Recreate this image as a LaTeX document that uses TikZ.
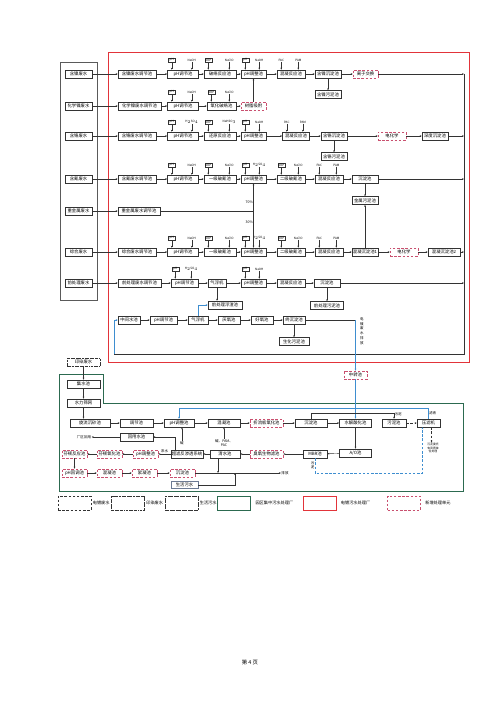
\documentclass[tikz,border=0pt]{standalone}
\usepackage{fontspec}
\setmainfont{Noto Sans CJK SC}
\usetikzlibrary{positioning,arrows.meta,calc}
\definecolor{inkgrey}{HTML}{333333}
\definecolor{srcgrey}{HTML}{5A5A5A}
\definecolor{platered}{HTML}{E2343A}
\definecolor{newred}{HTML}{C9506F}
\definecolor{parkgreen}{HTML}{2C6A50}
\definecolor{flowblue}{HTML}{3E8ED0}
\definecolor{domgrey}{HTML}{6C7A93}
\newlength\px
\setlength\px{0.042cm}
\tikzset{
  unit/.style    = {draw=inkgrey, line width=0.65pt, align=center, inner sep=0.8pt,
                    font=\fontsize{5.2}{6}\selectfont, minimum height=8\px},
  wd/.style      = {minimum width=#1\px},
  newunit/.style = {unit, draw=newred, densely dashed},
  meter/.style   = {draw=inkgrey, line width=0.5pt, inner sep=0.5pt, minimum width=7\px,
                    minimum height=4.6\px, font=\fontsize{3.6}{4}\selectfont},
  chem/.style    = {inner sep=0.3pt, font=\fontsize{3.6}{4}\selectfont},
  note/.style    = {inner sep=0.5pt, align=center, font=\fontsize{4.2}{5}\selectfont},
  pipe/.style    = {line width=0.5pt, draw=inkgrey},
  arr/.style     = {-{Stealth[length=2.4pt,width=2pt]}, line width=0.5pt, draw=inkgrey},
  barr/.style    = {arr, draw=flowblue},
  legbox/.style  = {minimum width=33\px, minimum height=14\px, inner sep=0, line width=0.6pt},
  legtext/.style = {inner sep=0.5pt, font=\fontsize{5}{6}\selectfont},
}
\newcommand\dose[4][meter]{%
  \node[#1] (#2m) at ($(#2.north west)+(4.5,-9.5)$) {#3};
  \node[chem] (#2c) at ($(#2.north east)+(-7,-9.5)$) {#4};
  \draw[arr] (#2m) -- (#2m |- #2.north);
  \draw[arr] (#2c) -- (#2c |- #2.north);}

\begin{document}
\begin{tikzpicture}[x=0.042cm, y=-0.042cm]
  \useasboundingbox (0,0) rectangle (500,707);

  \draw[srcgrey, line width=0.9pt] (60,62) rectangle (97,300);
  \draw[platered, line width=0.8pt] (108,52) rectangle (469,362);

  \node[unit, wd=27] (sni)  at (78.5,74)  {含镍废水};
  \node[unit, wd=27] (seni) at (78.5,106) {化学镍废水};
  \node[unit, wd=27] (scr)  at (78.5,136) {含铬废水};
  \node[unit, wd=27] (scn)  at (78.5,179) {含氰废水};
  \node[unit, wd=27] (shm)  at (78.5,211) {重金属废水};
  \node[unit, wd=27] (smix) at (78.5,252) {综合废水};
  \node[unit, wd=27] (spre) at (78.5,283) {前处理废水};

  % nickel
  \node[unit, wd=38] (ni1) at (137,74)   {含镍废水调节池};
  \node[unit, wd=31] (ni2) at (183,74)   {pH调节池};
  \node[unit, wd=32] (ni3) at (220,74)   {破络反应池};
  \node[unit, wd=25] (ni4) at (253.5,74) {pH调整池};
  \node[unit, wd=28] (ni5) at (291,74)   {混凝反应池};
  \node[unit, wd=26] (ni6) at (328,74)   {含镍沉淀池};
  \node[newunit, wd=25] (ni7) at (365.5,74) {离子交换};
  \node[unit, wd=26, below=12\px of ni6] (nis) {含镍污泥池};
  \dose{ni2}{pH}{NaOH}
  \dose{ni3}{ORP}{NaClO}
  \dose{ni4}{pH}{NaOH}
  \dose[chem]{ni5}{PAC}{PAM}

  \node[unit, wd=43] (eni1) at (139.5,106) {化学镍废水调节池};
  \node[unit, wd=31] (eni2) at (183,106)   {pH调节池};
  \node[unit, wd=29] (eni3) at (221.5,106) {氧化破络池};
  \node[newunit, wd=25] (eni4) at (253.5,106) {树脂吸附};
  \dose{eni2}{pH}{NaOH}
  \dose{eni3}{ORP}{NaClO}

  % chromium
  \node[unit, wd=38] (cr1) at (137,136)   {含铬废水调节池};
  \node[unit, wd=31] (cr2) at (183,136)   {pH调节池};
  \node[unit, wd=32] (cr3) at (220,136)   {还原反应池};
  \node[unit, wd=25] (cr4) at (253.5,136) {pH调整池};
  \node[unit, wd=27] (cr5) at (296,136)   {混凝反应池};
  \node[unit, wd=26] (cr6) at (334,136)   {含铬沉淀池};
  \node[newunit, wd=28] (cr7) at (392,136) {电化学};
  \node[unit, wd=26] (cr8) at (435,136)   {深度沉淀池};
  \node[unit, wd=26, below=12\px of cr6] (crs) {含铬污泥池};
  \dose{cr2}{pH}{H$_2$SO$_4$}
  \dose{cr3}{ORP}{NaHSO$_3$}
  \dose{cr4}{pH}{NaOH}
  \dose[chem]{cr5}{PAC}{PAM}

  % cyanide
  \node[unit, wd=38] (cn1) at (137,179)   {含氰废水调节池};
  \node[unit, wd=31] (cn2) at (183,179)   {pH调节池};
  \node[unit, wd=32] (cn3) at (220,179)   {一级破氰池};
  \node[unit, wd=25] (cn4) at (253.5,179) {pH调整池};
  \node[unit, wd=28] (cn5) at (291,179)   {二级破氰池};
  \node[unit, wd=28] (cn6) at (329,179)   {混凝反应池};
  \node[unit, wd=26] (cn7) at (365,179)   {沉淀池};
  \node[unit, wd=26, below=13\px of cn7] (mets) {金属污泥池};
  \dose{cn2}{pH}{NaOH}
  \dose{cn3}{ORP}{NaClO}
  \dose{cn4}{pH}{H$_2$SO$_4$}
  \dose{cn5}{ORP}{NaClO}
  \dose[chem]{cn6}{PAC}{PAM}

  \node[unit, wd=42] (hm1) at (139,211) {重金属废水调节池};

  % mixed
  \node[unit, wd=38] (mix1) at (137,252)   {综合废水调节池};
  \node[unit, wd=31] (mix2) at (183,252)   {pH调节池};
  \node[unit, wd=32] (mix3) at (220,252)   {一级破氰池};
  \node[unit, wd=25] (mix4) at (253.5,252) {pH调整池};
  \node[unit, wd=28] (mix5) at (291,252)   {二级破氰池};
  \node[unit, wd=28] (mix6) at (329,252)   {混凝反应池};
  \node[unit, wd=26] (mix7) at (365,252)   {混凝沉淀池1};
  \node[newunit, wd=28] (mix8) at (404,252) {电化学};
  \node[unit, wd=32] (mix9) at (444,252)   {混凝沉淀池2};
  \dose{mix2}{pH}{NaOH}
  \dose{mix3}{ORP}{NaClO}
  \dose{mix4}{pH}{H$_2$SO$_4$}
  \dose{mix5}{ORP}{NaClO}
  \dose[chem]{mix6}{PAC}{PAM}

  % pretreatment
  \node[unit, wd=43] (pre1) at (139.5,283) {前处理废水调节池};
  \node[unit, wd=27] (pre2) at (184.5,283) {pH调节池};
  \node[unit, wd=18] (pre3) at (217,283)   {气浮机};
  \node[unit, wd=25] (pre4) at (253.5,283) {pH调整池};
  \node[unit, wd=28] (pre5) at (291,283)   {混凝反应池};
  \node[unit, wd=26] (pre6) at (327,283)   {沉淀池};
  \node[unit, wd=34] (pref) at (225,305)   {前处理浮渣池};
  \node[unit, wd=33, below=14\px of pre6] (pres) {前处理污泥池};
  \dose{pre2}{pH}{H$_2$SO$_4$}
  \dose{pre4}{pH}{NaOH}

  \node[unit, wd=22] (mid1) at (129,320)   {中间水池};
  \node[unit, wd=27] (mid2) at (163.5,320) {pH调节池};
  \node[unit, wd=20] (mid3) at (198,320)   {气浮机};
  \node[unit, wd=22] (mid4) at (229,320)   {厌氧池};
  \node[unit, wd=22] (mid5) at (262,320)   {好氧池};
  \node[unit, wd=22] (mid6) at (294,320)   {终沉淀池};
  \node[unit, wd=30, below=13\px of mid6] (mids) {生化污泥池};

  \draw[arr] (sni) -- (ni1);   \draw[arr] (seni) -- (eni1); \draw[arr] (scr) -- (cr1);
  \draw[arr] (scn) -- (cn1);   \draw[arr] (shm) -- (hm1);   \draw[arr] (smix) -- (mix1);
  \draw[arr] (spre) -- (pre1);
  \draw[arr] (ni1) -- (ni2); \draw[arr] (ni2) -- (ni3); \draw[arr] (ni3) -- (ni4);
  \draw[arr] (ni4) -- (ni5); \draw[arr] (ni5) -- (ni6); \draw[arr] (ni6) -- (ni7);
  \draw[arr] (ni6) -- (nis);
  \draw[arr] (eni1) -- (eni2); \draw[arr] (eni2) -- (eni3); \draw[arr] (eni3) -- (eni4);
  \draw[arr] (eni4) -- (ni4);
  \draw[arr] (cr1) -- (cr2); \draw[arr] (cr2) -- (cr3); \draw[arr] (cr3) -- (cr4);
  \draw[arr] (cr4) -- (cr5); \draw[arr] (cr5) -- (cr6); \draw[arr] (cr6) -- (cr7);
  \draw[arr] (cr7) -- (cr8); \draw[arr] (cr6) -- (crs);
  \draw[arr] (cn1) -- (cn2); \draw[arr] (cn2) -- (cn3); \draw[arr] (cn3) -- (cn4);
  \draw[arr] (cn4) -- (cn5); \draw[arr] (cn5) -- (cn6); \draw[arr] (cn6) -- (cn7);
  \draw[arr] (cn7) -- (mets);
  \draw[arr] (mix1) -- (mix2); \draw[arr] (mix2) -- (mix3); \draw[arr] (mix3) -- (mix4);
  \draw[arr] (mix4) -- (mix5); \draw[arr] (mix5) -- (mix6); \draw[arr] (mix6) -- (mix7);
  \draw[arr] (mix7) -- (mix8); \draw[arr] (mix8) -- (mix9); \draw[arr] (mix7) -- (mets);
  \draw[arr] (pre1) -- (pre2); \draw[arr] (pre2) -- (pre3); \draw[arr] (pre3) -- (pre4);
  \draw[arr] (pre4) -- (pre5); \draw[arr] (pre5) -- (pre6);
  \draw[arr] (pre3.south) -- (pre3.south |- pref.north); \draw[arr] (pre6) -- (pres);
  \draw[arr] (mid1) -- (mid2); \draw[arr] (mid2) -- (mid3); \draw[arr] (mid3) -- (mid4);
  \draw[arr] (mid4) -- (mid5); \draw[arr] (mid5) -- (mid6); \draw[arr] (mid6) -- (mids);
  \draw[barr] (mid3.north) |- (pref.west);

  \coordinate (split) at (cn4 |- hm1);
  \draw[pipe] (hm1) -- (split);
  \draw[arr] (split) -- node[note, left, pos=0.3]{70\%} (cn4);
  \draw[arr] (split) -- node[note, left, pos=0.3]{30\%} (mix4);

  \coordinate (busT) at (464,74);
  \coordinate (busB) at (464,354);
  \coordinate (retL) at (114,354);
  \draw[arr] (ni7) -- (ni7 -| busT);   \draw[arr] (cr8) -- (cr8 -| busT);
  \draw[arr] (cn7) -- (cn7 -| busT);   \draw[arr] (mix9) -- (mix9 -| busT);
  \draw[arr] (pre6) -- (pre6 -| busT);
  \draw[pipe] (busT) -- (busB) -- (retL);
  \draw[barr] (retL) |- (mid1);

  \node[newunit, wd=23] (relay) at (355.5,375) {中转池};
  \coordinate (outlet) at (relay |- mid6);
  \draw[pipe] (mid6) -- (outlet);
  \draw[barr] (outlet) -- (relay);
  \node[note, font=\fontsize{4.2}{5.6}\selectfont] (plateout) at (362,331) {电\\镀\\废\\水\\排\\放};

  % park plant
  \node[unit, wd=33, densely dash dot] (dye) at (83.5,362) {印染废水};
  \draw[parkgreen, line width=1.1pt] (59,374) -- (103,374) -- (103,403) -- (463,403)
        -- (463,491) -- (59,491) -- cycle;
  \node[unit, wd=33] (sump)   at (83.5,384) {集水池};
  \node[unit, wd=33] (screen) at (83.5,403) {水力筛网};
  \node[unit, wd=40] (grit)   at (90,423)   {旋流沉砂池};
  \node[unit, wd=33] (eq)     at (136.5,423) {调节池};
  \node[unit, wd=30] (gph)    at (179,423)  {pH调整池};
  \node[unit, wd=32] (coag)   at (224,423)  {混凝池};
  \node[newunit, wd=33] (baffle) at (266.5,423) {折流板氧化池};
  \node[unit, wd=32] (sett)   at (311,423)  {沉淀池};
  \node[unit, wd=32] (hydro)  at (355.5,423) {水解酸化池};
  \node[unit, wd=24] (sludge) at (394,423)  {污泥池};
  \node[unit, wd=23] (press)  at (428.5,423) {压滤机};

  \node[unit, wd=32] (ao)     at (355.5,453) {A/O池};
  \node[unit, wd=24] (mbr)    at (315,454)  {MBR池};
  \node[newunit, wd=33] (ozone) at (266.5,454) {臭氧生物滤池};
  \node[unit, wd=30] (clear)  at (225,454)  {清水池};
  \node[unit, wd=32] (ufro)   at (187,454)  {超滤反渗透系统};
  \node[newunit, wd=25] (cph) at (145.5,454) {pH调整池};
  \node[newunit, wd=25] (fox) at (109.5,454) {芬顿氧化池};
  \node[newunit, wd=25] (frx) at (74.5,454)  {芬顿反应池};
  \node[unit, wd=33] (reuse)  at (136.5,437) {回用水池};
  \node[note] (use) at (84,437) {厂区回用};

  \node[newunit, wd=25] (rph)   at (74.5,473)  {pH回调池};
  \node[newunit, wd=25] (rcoag) at (109.5,473) {混凝池};
  \node[newunit, wd=25] (rfloc) at (144.5,473) {絮凝池};
  \node[newunit, wd=25] (rsett) at (182.5,473) {沉淀池};
  \node[unit, wd=27, draw=domgrey, minimum height=7\px] (dom) at (184.5,485) {生活污水};
  \node[note] (out) at (285,473) {排放};
  \coordinate (merge) at (235,473);

  \node[note] (alk) at (182,443) {碱};
  \node[note] (pac) at (224,443) {碱、PAM、\\PAC};
  \node[note, font=\fontsize{3.4}{4.1}\selectfont] (disp) at (433,448) {污泥委托\\有资质单\\位处理};

  \draw[arr] (dye) -- (sump); \draw[arr] (sump) -- (screen);
  \draw[arr] (screen) -- (screen |- grit.north);
  \draw[arr] (grit) -- (eq); \draw[arr] (eq) -- (gph); \draw[arr] (gph) -- (coag);
  \draw[arr] (coag) -- (baffle); \draw[arr] (baffle) -- (sett); \draw[arr] (sett) -- (hydro);
  \draw[arr, densely dashed] (sludge) -- (press);
  \draw[arr] (alk) -- (alk |- gph.south);
  \draw[arr] (pac) -- (pac |- coag.south);
  \draw[barr] (relay) -- (hydro);
  \draw[arr] (sett.north) -- ++(0,-6) -| node[note, pos=0.58, right]{污泥} (sludge.north);
  \draw[barr] (press.north) -- node[note, right]{滤液} ++(0,-11) -| (gph.north);
  \draw[arr, densely dashed] ([xshift=3\px]press.south) -- ([xshift=3\px]press.south |- disp.north);

  \draw[arr] (hydro) -- (ao); \draw[arr] (ao) -- (mbr); \draw[arr] (mbr) -- (ozone);
  \draw[arr] (ozone) -- (clear); \draw[arr] (clear) -- (ufro);
  \draw[arr] (ufro) -- node[note, above=1\px]{浓水} (cph);
  \draw[arr] (cph) -- (fox); \draw[arr] (fox) -- (frx); \draw[arr] (frx) -- (rph);
  \draw[arr] ([xshift=-12\px]ufro.north) |- (reuse.east);
  \draw[arr] (reuse) -- (use);
  \draw[barr, densely dashed] (mbr.south) -- node[note, left, pos=0.45]{污\\泥} ++(0,15)
        -| ([xshift=-6\px]press.south);

  \draw[arr] (rph) -- (rcoag); \draw[arr] (rcoag) -- (rfloc); \draw[arr] (rfloc) -- (rsett);
  \draw[arr] (rsett) -- (out);
  \draw[arr] ([xshift=-7\px]clear.south) -- ([xshift=-7\px]clear.south |- merge);
  \draw[arr] (dom) -| (merge);

  % legend
  \node[legbox, draw=inkgrey, densely dashed] (lg1) at (74.5,503) {};
  \node[legtext, right=1\px of lg1] {电镀废水};
  \node[legbox, draw=inkgrey, densely dash dot] (lg2) at (128,503) {};
  \node[legtext, right=1\px of lg2] {印染废水};
  \node[legbox, draw=inkgrey, densely dash dot dot] (lg3) at (181.5,503) {};
  \node[legtext, right=1\px of lg3] {生活污水};
  \node[legbox, draw=parkgreen, line width=1.1pt] (lg4) at (234,503) {};
  \node[legtext, right=4\px of lg4] {园区集中污水处理厂};
  \node[legbox, draw=platered, line width=0.8pt] (lg5) at (319.5,503) {};
  \node[legtext, right=4\px of lg5] {电镀污水处理厂};
  \node[legbox, draw=newred, densely dashed] (lg6) at (404,503) {};
  \node[legtext, right=4\px of lg6] {新增处理单元};

  \node[font=\fontsize{6.5}{8}\selectfont] (pageno) at (250,662) {第 4 页};
\end{tikzpicture}
\end{document}
